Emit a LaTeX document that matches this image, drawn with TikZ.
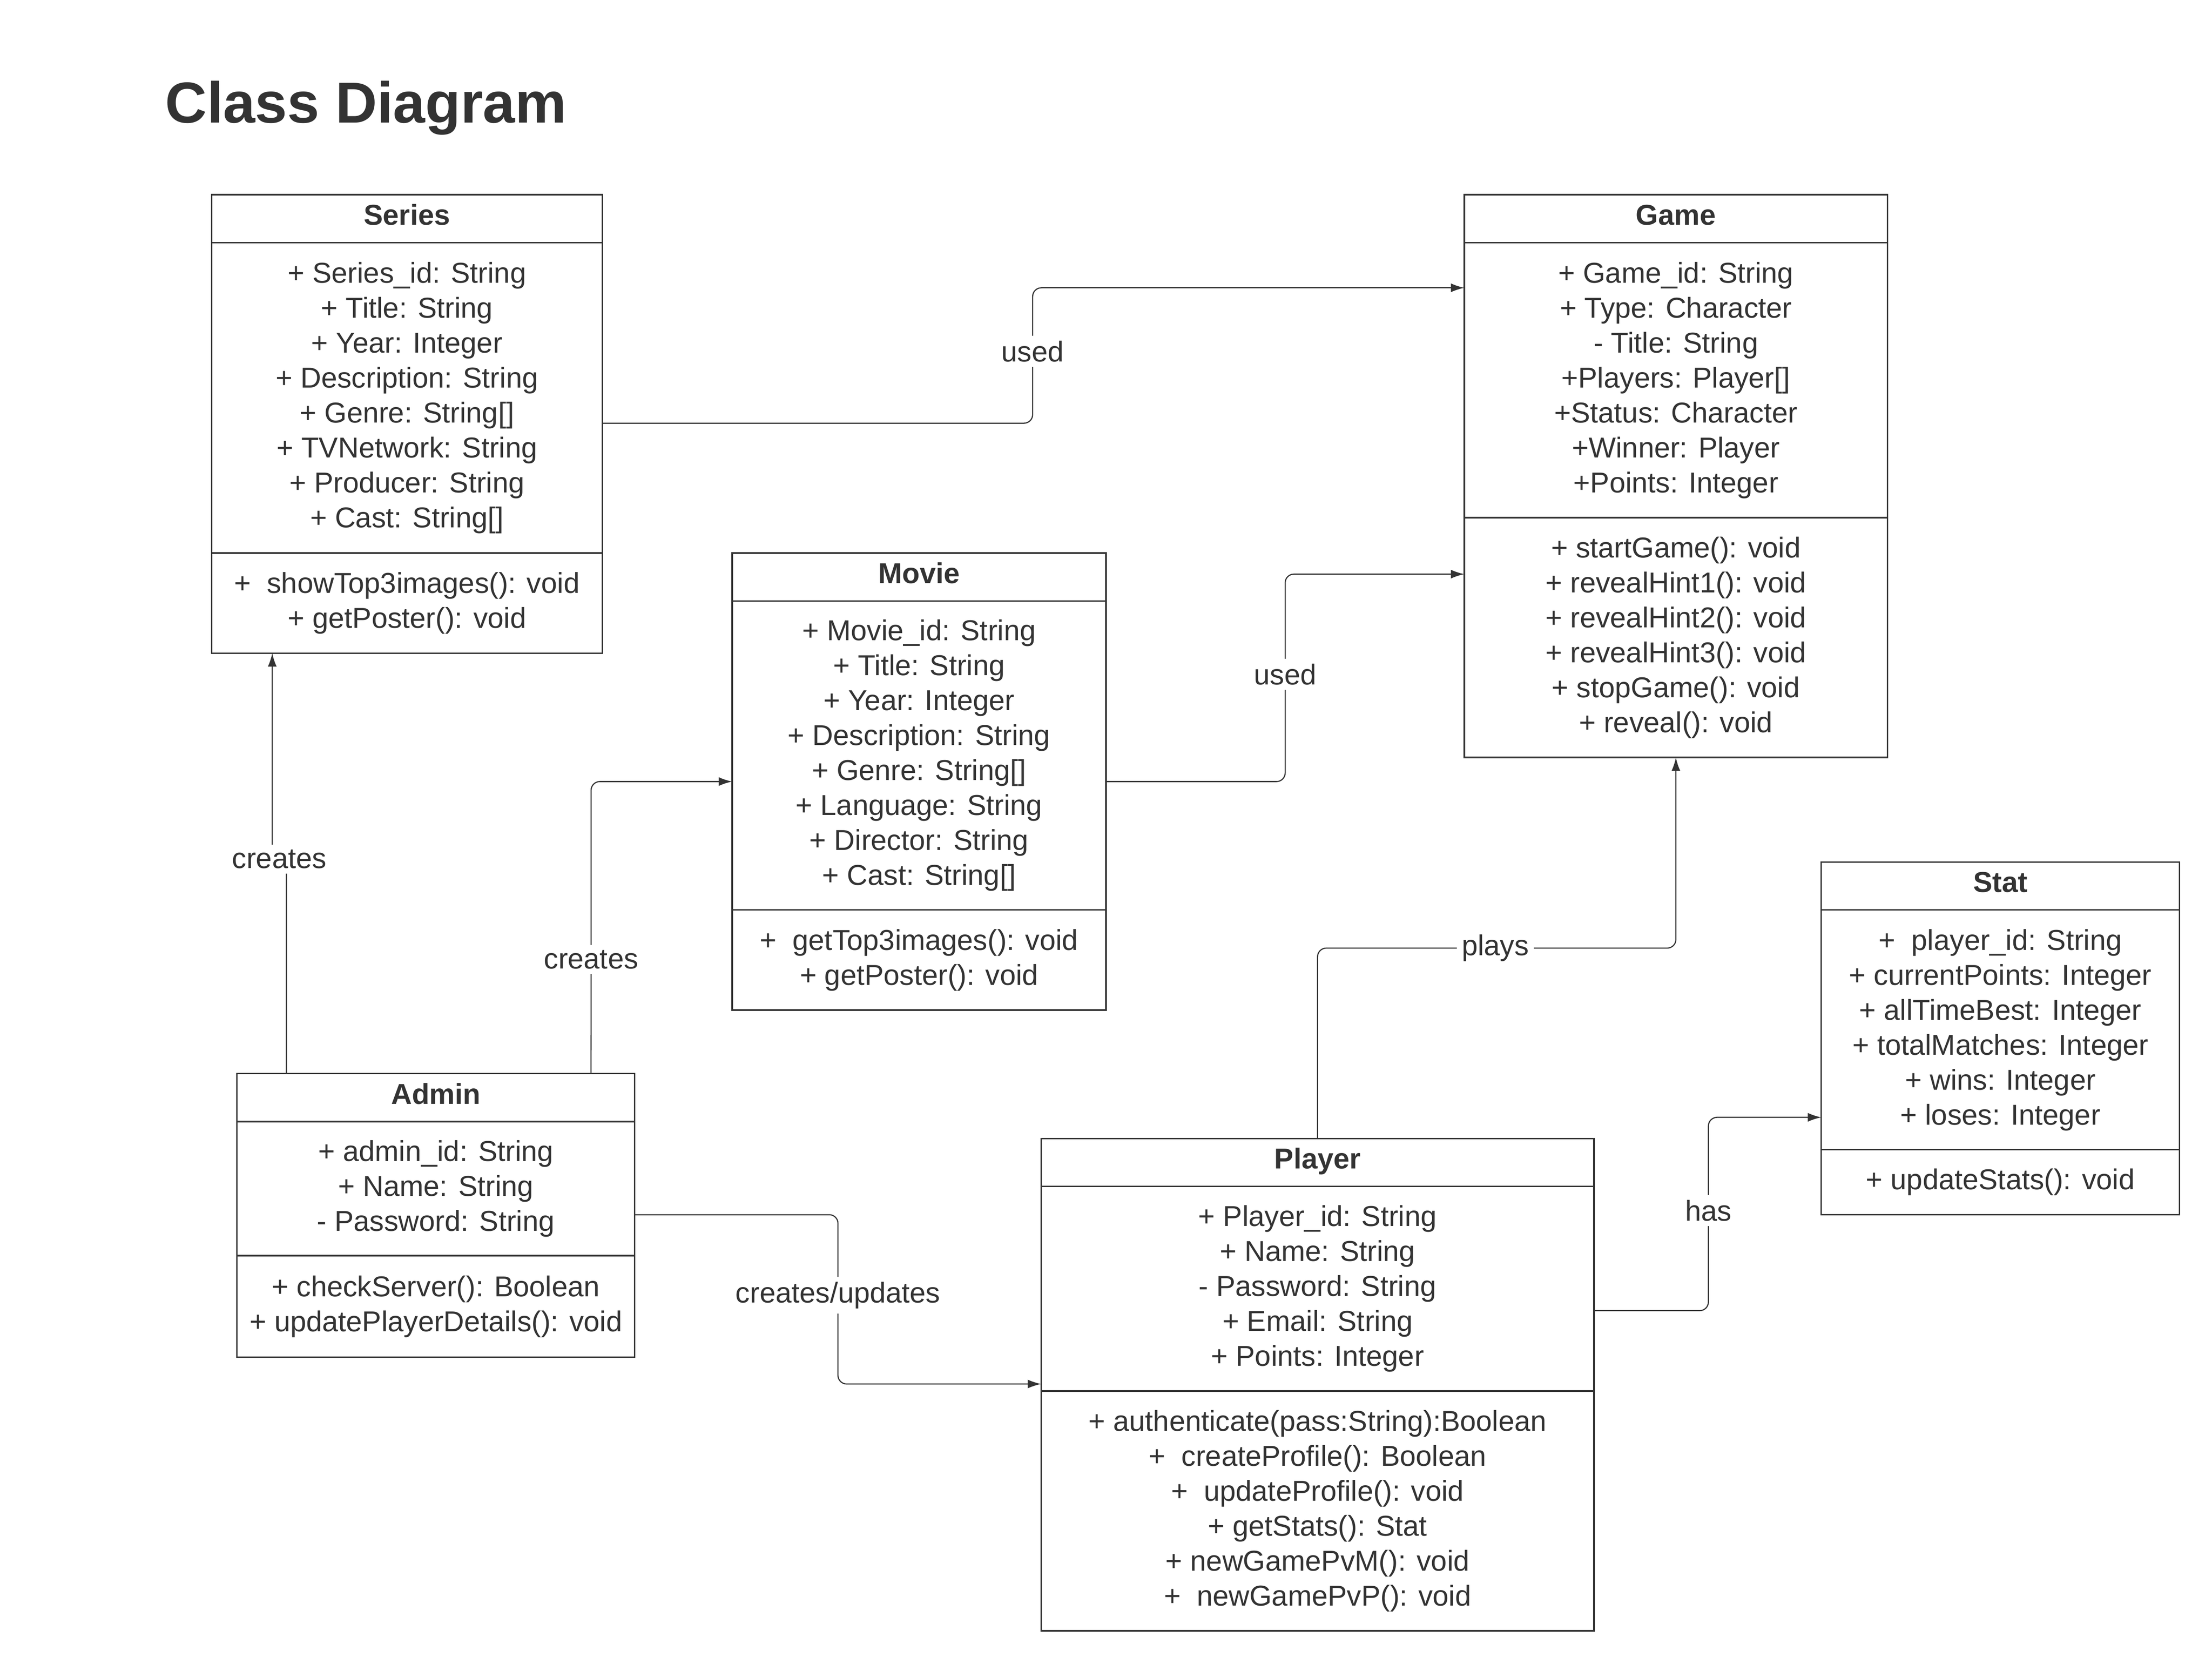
\documentclass[tikz,border=0pt]{standalone}
\usepackage{fontspec}
\setmainfont{Liberation Sans}
\usetikzlibrary{positioning,arrows.meta}
\definecolor{ink}{HTML}{333333}

\begin{document}
\begin{tikzpicture}[x=0.02cm, y=-0.02cm, color=ink]
    \tikzstyle{classhead} = [rectangle, draw, line width=0.6pt, outer sep=0pt, inner sep=0pt, minimum height=0.68cm, text height=8.5pt, text depth=3.4pt, anchor=north west, font=\fontsize{11.6}{14.1}\selectfont\bfseries]
    \tikzstyle{compart} = [rectangle, draw, line width=0.6pt, outer sep=0pt, inner sep=0pt, align=center, font=\fontsize{11.6}{14.1}\selectfont]
    \tikzstyle{arrow} = [line width=0.45pt, rounded corners=3.5pt, -{Latex[length=1.9mm,width=1.25mm]}]
    \tikzstyle{lbl} = [fill=white, inner sep=2pt, font=\fontsize{11.6}{14.1}\selectfont]

    \useasboundingbox (0,0) rectangle (1568,1179.4);

    \node[anchor=base west, font=\fontsize{23.3}{28}\selectfont\bfseries] (title) at (111,87) {Class Diagram};

    % Classes
    \node[classhead, minimum width=5.54cm] (series) at (150,138) {Series};
    \node[compart, minimum width=5.54cm, minimum height=4.4cm, below=0pt of series] (seriesA) {+ Series\_id: String\\+ Title: String\\+ Year: Integer\\+ Description: String\\+ Genre: String[]\\+ TVNetwork: String\\+ Producer: String\\+ Cast: String[]};
    \node[compart, minimum width=5.54cm, minimum height=1.42cm, below=0pt of seriesA] (seriesM) {+~ showTop3images(): void\\+ getPoster(): void};

    \node[classhead, minimum width=6cm] (game) at (1038,138) {Game};
    \node[compart, minimum width=6cm, minimum height=3.9cm, below=0pt of game] (gameA) {+ Game\_id: String\\+ Type: Character\\- Title: String\\+Players: Player[]\\+Status: Character\\+Winner: Player\\+Points: Integer};
    \node[compart, minimum width=6cm, minimum height=3.4cm, below=0pt of gameA] (gameM) {+ startGame(): void\\+ revealHint1(): void\\+ revealHint2(): void\\+ revealHint3(): void\\+ stopGame(): void\\+ reveal(): void};

    \node[classhead, minimum width=5.3cm] (movie) at (519,392) {Movie};
    \node[compart, minimum width=5.3cm, minimum height=4.38cm, below=0pt of movie] (movieA) {+ Movie\_id: String\\+ Title: String\\+ Year: Integer\\+ Description: String\\+ Genre: String[]\\+ Language: String\\+ Director: String\\+ Cast: String[]};
    \node[compart, minimum width=5.3cm, minimum height=1.42cm, below=0pt of movieA] (movieM) {+~ getTop3images(): void\\+ getPoster(): void};

    \node[classhead, minimum width=5.64cm] (admin) at (168,761) {Admin};
    \node[compart, minimum width=5.64cm, minimum height=1.9cm, below=0pt of admin] (adminA) {+ admin\_id: String\\+ Name: String\\- Password: String};
    \node[compart, minimum width=5.64cm, minimum height=1.44cm, below=0pt of adminA] (adminM) {+ checkServer(): Boolean\\+ updatePlayerDetails(): void};

    \node[classhead, minimum width=7.84cm] (player) at (738,807) {Player};
    \node[compart, minimum width=7.84cm, minimum height=2.9cm, below=0pt of player] (playerA) {+ Player\_id: String\\+ Name: String\\- Password: String\\+ Email: String\\+ Points: Integer};
    \node[compart, minimum width=7.84cm, minimum height=3.4cm, below=0pt of playerA] (playerM) {+ authenticate(pass:String):Boolean\\+~ createProfile(): Boolean\\+~ updateProfile(): void\\+ getStats(): Stat\\+ newGamePvM(): void\\+~ newGamePvP(): void};

    \node[classhead, minimum width=5.08cm] (stat) at (1291,611) {Stat};
    \node[compart, minimum width=5.08cm, minimum height=3.4cm, below=0pt of stat] (statA) {+~ player\_id: String\\+ currentPoints: Integer\\+ allTimeBest: Integer\\+ totalMatches: Integer\\+ wins: Integer\\+ loses: Integer};
    \node[compart, minimum width=5.08cm, minimum height=0.92cm, below=0pt of statA] (statM) {+ updateStats(): void};

    % Connectors
    \draw[arrow] ([yshift=-0.36cm]seriesA.east) -| (732,249) node[lbl] {used} |- ([yshift=1.31cm]gameA.west);
    \draw[arrow] ([yshift=-0.37cm]movieA.east) -| (911,478) node[lbl] {used} |- ([yshift=0.9cm]gameM.west);
    \draw[arrow] ([xshift=-2.12cm]admin.north) -- (203,609) -- node[lbl] {creates} (193,609) -- ([xshift=-1.91cm]seriesM.south);
    \draw[arrow] ([xshift=2.2cm]admin.north) -- (419,680) node[lbl] {creates} |- ([yshift=-0.37cm]movieA.west);
    \draw[arrow] ([yshift=-0.37cm]adminA.east) -| (594,918) node[lbl] {creates/updates} |- ([yshift=-1.35cm]playerA.west);
    \draw[arrow] (player.north) |- (1060,672) node[lbl] {plays} -| (gameM.south);
    \draw[arrow] ([yshift=-0.31cm]playerA.east) -| (1211,858) node[lbl] {has} |- ([yshift=-1.24cm]statA.west);
\end{tikzpicture}
\end{document}
